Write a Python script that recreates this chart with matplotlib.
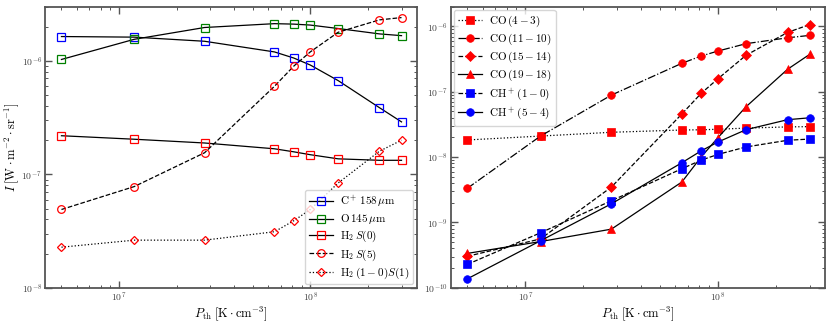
import matplotlib
matplotlib.use("Agg")
import matplotlib.pyplot as plt
from matplotlib.ticker import LogLocator, NullFormatter

plt.rcParams['mathtext.fontset'] = 'cm'
plt.rcParams['font.family'] = 'serif'
plt.rcParams['font.serif'] = ['cmr10', 'DejaVu Serif']
plt.rcParams['axes.unicode_minus'] = False
plt.rcParams['axes.formatter.use_mathtext'] = True

# ---- data ----
p_th = [5e6, 1.2e7, 2.8e7, 6.5e7, 8.2e7, 1e8, 1.4e8, 2.3e8, 3e8]

c_plus_158 = [1.64e-6, 1.62e-6, 1.49e-6, 1.2e-6, 1.06e-6, 9.2e-7, 6.7e-7, 3.87e-7, 2.9e-7]
o_145 = [1.03e-6, 1.55e-6, 1.97e-6, 2.13e-6, 2.11e-6, 2.07e-6, 1.93e-6, 1.73e-6, 1.67e-6]
h2_s0 = [2.19e-7, 2.04e-7, 1.89e-7, 1.68e-7, 1.58e-7, 1.49e-7, 1.37e-7, 1.33e-7, 1.33e-7]
h2_s5 = [4.9e-8, 7.8e-8, 1.55e-7, 5.98e-7, 9.0e-7, 1.2e-6, 1.79e-6, 2.3e-6, 2.41e-6]
h2_10_s1 = [2.28e-8, 2.63e-8, 2.63e-8, 3.12e-8, 3.9e-8, 4.9e-8, 8.4e-8, 1.6e-7, 2.0e-7]

co_4_3 = [1.83e-8, 2.1e-8, 2.4e-8, 2.6e-8, 2.62e-8, 2.67e-8, 2.78e-8, 2.9e-8, 2.93e-8]
co_11_10 = [3.33e-9, 2.1e-8, 8.9e-8, 2.73e-7, 3.53e-7, 4.2e-7, 5.45e-7, 6.7e-7, 7.3e-7]
co_15_14 = [3.03e-10, 5.6e-10, 3.48e-9, 4.57e-8, 9.5e-8, 1.58e-7, 3.62e-7, 8.1e-7, 1.07e-6]
co_19_18 = [3.36e-10, 5.1e-10, 7.9e-10, 4.16e-9, 1.01e-8, 1.98e-8, 5.9e-8, 2.21e-7, 3.75e-7]
chp_1_0 = [2.28e-10, 6.95e-10, 2.15e-9, 6.64e-9, 9.0e-9, 1.1e-8, 1.43e-8, 1.81e-8, 1.89e-8]
chp_5_4 = [1.37e-10, 5.25e-10, 1.93e-9, 8.2e-9, 1.25e-8, 1.7e-8, 2.63e-8, 3.74e-8, 4.0e-8]

left_labels = [r'$\mathrm{C^+}\,158\,\mu\mathrm{m}$', r'$\mathrm{O}\,145\,\mu\mathrm{m}$',
               r'$\mathrm{H_2}\,S(0)$', r'$\mathrm{H_2}\,S(5)$', r'$\mathrm{H_2}\,(1-0)S(1)$']
right_labels = [r'$\mathrm{CO}\,(4-3)$', r'$\mathrm{CO}\,(11-10)$', r'$\mathrm{CO}\,(15-14)$',
                r'$\mathrm{CO}\,(19-18)$', r'$\mathrm{CH^+}\,(1-0)$', r'$\mathrm{CH^+}\,(5-4)$']

fig = plt.figure(figsize=(8.30, 3.23), dpi=100)
ax1 = fig.add_axes([0.0542, 0.109, 0.4478, 0.870])
ax2 = fig.add_axes([0.543, 0.109, 0.451, 0.870])

spine_col = '#555555'
lw = 0.9

left_series = [
    (c_plus_158, 'blue', 's', '-'),
    (o_145, 'green', 's', '-'),
    (h2_s0, 'red', 's', '-'),
    (h2_s5, 'red', 'o', '--'),
    (h2_10_s1, 'red', 'D', ':'),
]
for (vals, col, mk, ls), lab in zip(left_series, left_labels):
    ms = 5.5 if mk != 'D' else 4.5
    ax1.plot(p_th, vals, color='black', ls=ls, lw=lw, marker=mk, ms=ms,
             mfc='none', mec=col, mew=0.9, label=lab)

right_series = [
    (co_4_3, 'red', 's', ':'),
    (co_11_10, 'red', 'o', '-.'),
    (co_15_14, 'red', 'D', '--'),
    (co_19_18, 'red', '^', '-'),
    (chp_1_0, 'blue', 's', '--'),
    (chp_5_4, 'blue', 'o', '-'),
]
for (vals, col, mk, ls), lab in zip(right_series, right_labels):
    ms = 5.5 if mk != 'D' else 4.8
    ax2.plot(p_th, vals, color='black', ls=ls, lw=lw, marker=mk, ms=ms,
             mfc=col, mec=col, mew=0.5, label=lab)

for ax in (ax1, ax2):
    ax.set_xscale('log')
    ax.set_yscale('log')
    ax.set_xlim(4.1e6, 3.6e8)
    ax.set_xlabel(r'$P_\mathrm{th}\;[\mathrm{K\cdot cm^{-3}}]$', fontsize=9, labelpad=0)
    ax.tick_params(which='both', direction='in', top=True, right=True,
                   colors=spine_col, labelcolor='#444444', labelsize=7, pad=2)
    ax.tick_params(which='major', length=5, width=1.0)
    ax.tick_params(which='minor', length=2.5, width=0.7)
    for s in ax.spines.values():
        s.set_color(spine_col)
        s.set_linewidth(1.3)
    ax.yaxis.set_minor_locator(LogLocator(base=10, subs=range(2, 10), numticks=20))
    ax.yaxis.set_minor_formatter(NullFormatter())
    ax.xaxis.set_minor_formatter(NullFormatter())

ax1.set_ylim(1e-8, 3.0e-6)
ax2.set_ylim(1e-10, 2.0e-6)
ax1.set_ylabel(r'$I\;[\mathrm{W\cdot m^{-2}\cdot sr^{-1}}]$', fontsize=9, labelpad=0)

leg_kw = dict(fontsize=8, handlelength=2.2, borderpad=0.35, labelspacing=0.25,
              handletextpad=0.6, borderaxespad=0.3)
ax1.legend(loc='lower right', **leg_kw)
ax2.legend(loc='upper left', **leg_kw)

fig.savefig('out.png', dpi=100)
